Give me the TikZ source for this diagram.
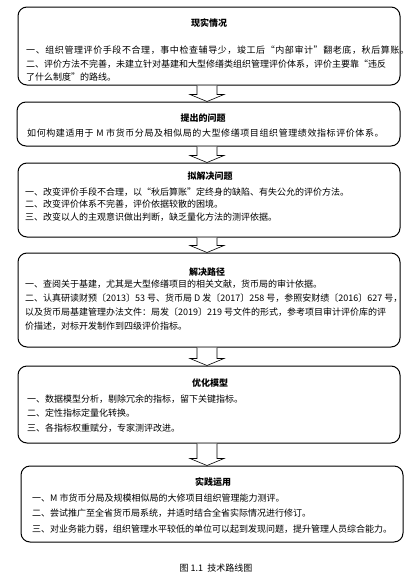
\documentclass[tikz,border=0pt]{standalone}
\usepackage{fontspec}
\usepackage{tikz}
\newfontfamily\cjk{Noto Sans CJK SC}
\newfontfamily\cjkwide[LetterSpace=6.5]{Noto Sans CJK SC}
\usetikzlibrary{calc}

\begin{document}
\begin{tikzpicture}[
    x=1pt, y=-1pt,
    stage/.style={rectangle, draw=black, line width=1pt, rounded corners=9pt, minimum width=382pt, fill=white},
    stagetitle/.style={font=\cjk\bfseries\fontsize{9}{11}\selectfont, inner sep=0pt},
    stagebody/.style={font=\cjk\fontsize{9}{13.5}\selectfont, align=left, anchor=north west, inner sep=0pt},
    hollowarrow/.style={draw=black, line width=0.6pt, fill=white, line join=miter}
]
    \useasboundingbox (0,0) rectangle (409,584);

    % boxes
    \node[stage, minimum height=78pt] (s1) at (209,46) {};
    \node[stage, minimum height=44pt, minimum width=383pt] (s2) at (208.5,124) {};
    \node[stage, minimum height=74pt] (s3) at (209,200) {};
    \node[stage, minimum height=94pt] (s4) at (209,300) {};
    \node[stage, minimum height=77pt] (s5) at (209,404.5) {};
    \node[stage, minimum height=76pt] (s6) at (212,504) {};

    % titles
    \node[stagetitle] (t1) at (209,23) {现实情况};
    \node[stagetitle] (t2) at (203,118) {提出的问题};
    \node[stagetitle] (t3) at (210,176) {拟解决问题};
    \node[stagetitle] (t4) at (207,272) {解决路径};
    \node[stagetitle] (t5) at (210,383) {优化模型};
    \node[stagetitle] (t6) at (213,482) {实践运用};

    % contents
    \node[stagebody] (c1) at (26,46) {{\cjkwide 一、组织管理评价手段不合理，事中检查辅导少，竣工后“内部审计”翻老底，秋后算账。}\\
        二、评价方法不完善，未建立针对基建和大型修缮类组织管理评价体系，评价主要靠“违反\\
        了什么制度”的路线。};
    \node[stagebody, font=\cjkwide\fontsize{9}{13.5}\selectfont] (c2) at (27,128.5) {如何构建适用于 M 市货币分局及相似局的大型修缮项目组织管理绩效指标评价体系。};
    \node[stagebody, font=\cjk\fontsize{9}{12.8}\selectfont] (c3) at (25,187.2) {一、改变评价手段不合理，以“秋后算账”定终身的缺陷、有失公允的评价方法。\\
        二、改变评价体系不完善，评价依据较散的困境。\\
        三、改变以人的主观意识做出判断，缺乏量化方法的测评依据。};
    \node[stagebody, font=\cjk\fontsize{9}{14}\selectfont] (c4) at (25,279.5) {一、查阅关于基建，尤其是大型修缮项目的相关文献，货币局的审计依据。\\
        二、认真研读财预〔2013〕53 号、货币局 D 发〔2017〕258 号，参照安财绩〔2016〕627 号，\\
        以及货币局基建管理办法文件：局发〔2019〕219 号文件的形式，参考项目审计评价库的评\\
        价描述，对标开发制作到四级评价指标。};
    \node[stagebody, font=\cjk\fontsize{9}{14.5}\selectfont] (c5) at (27,394.5) {一、数据模型分析，剔除冗余的指标，留下关键指标。\\
        二、定性指标定量化转换。\\
        三、各指标权重赋分，专家测评改进。};
    \node[stagebody, font=\cjk\fontsize{9}{15.5}\selectfont] (c6) at (32,493.5) {一、M 市货币分局及规模相似局的大修项目组织管理能力测评。\\
        二、尝试推广至全省货币局系统，并适时结合全省实际情况进行修订。\\
        三、对业务能力弱，组织管理水平较低的单位可以起到发现问题，提升管理人员综合能力。};

    % arrows between the boxes
    \coordinate (ax) at (207,0);
    \foreach \a/\b in {s1/s2, s2/s3, s3/s4, s4/s5, s5/s6} {
        \path (\a.south -| ax) coordinate (top) (\b.north -| ax) coordinate (tip);
        \draw[hollowarrow] ($(top)+(-10,0)$) -- ($(tip)+(-10,-7)$) -- ($(tip)+(-17,-7)$) -- (tip)
            -- ($(tip)+(17,-7)$) -- ($(tip)+(10,-7)$) -- ($(top)+(10,0)$);
    }

    \node[font=\cjk\fontsize{9}{11}\selectfont] (cap) at (216,568) {图 1.1\ \ 技术路线图};

\end{tikzpicture}
\end{document}
